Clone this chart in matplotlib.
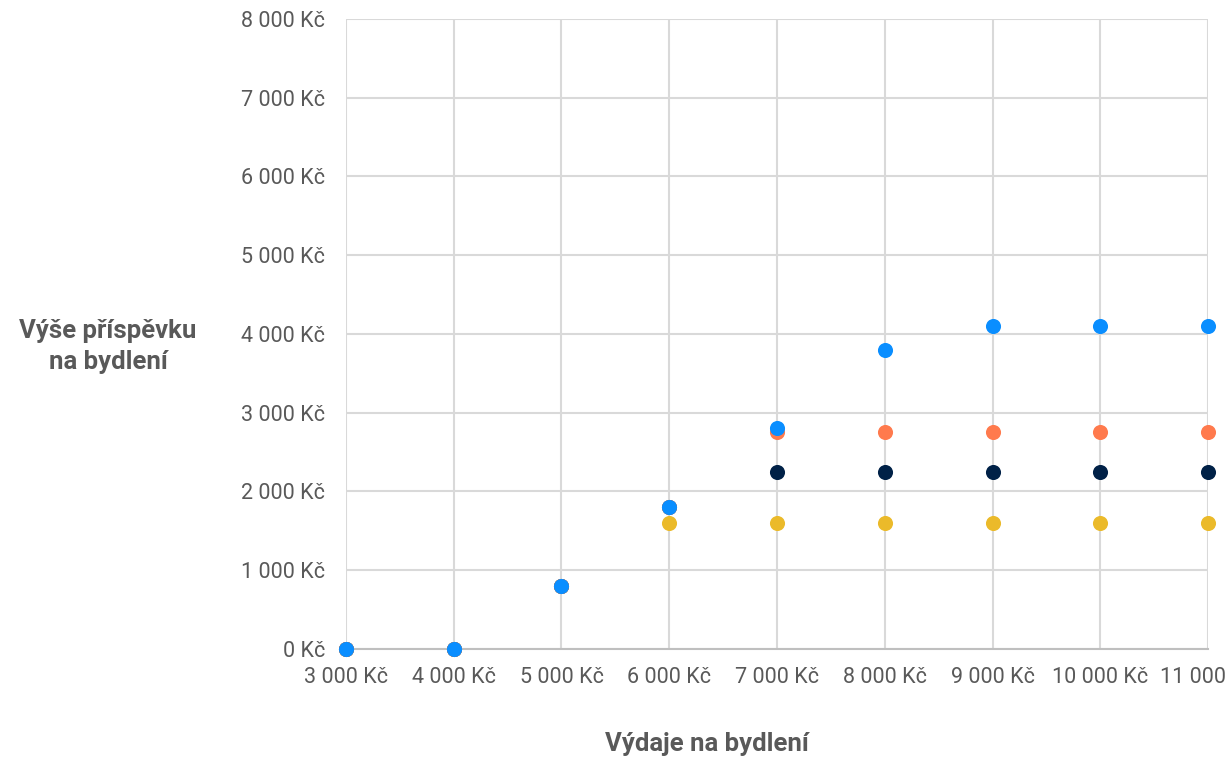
import matplotlib
matplotlib.use("Agg")
import matplotlib.pyplot as plt
from matplotlib.ticker import FuncFormatter, MultipleLocator

# Monthly housing costs (Kč) and the resulting housing allowance for four household types
vydaje = [3000, 4000, 5000, 6000, 7000, 8000, 9000, 10000, 11000]
prispevek_zluta = [0, 0, 800, 1600, 1600, 1600, 1600, 1600, 1600]
prispevek_tmava = [0, 0, 800, 1800, 2250, 2250, 2250, 2250, 2250]
prispevek_oranzova = [0, 0, 800, 1800, 2750, 2750, 2750, 2750, 2750]
prispevek_modra = [0, 0, 800, 1800, 2800, 3800, 4100, 4100, 4100]

serie = [
    (prispevek_zluta, "#EBBA2A"),
    (prispevek_tmava, "#002147"),
    (prispevek_oranzova, "#FF7A4D"),
    (prispevek_modra, "#0A8EFF"),
]

plt.rcParams["font.family"] = ["Roboto", "DejaVu Sans"]
text_color = "#595959"
grid_color = "#D9D9D9"

fig = plt.figure(figsize=(12.29, 7.58), dpi=100)
ax = fig.add_axes([0.2815, 0.1438, 0.7015, 0.8312])

for hodnoty, barva in serie:
    ax.scatter(vydaje, hodnoty, s=118, color=barva, linewidths=0, zorder=3, clip_on=False)

ax.set_xlim(3000, 11000)
ax.set_ylim(0, 8000)
ax.xaxis.set_major_locator(MultipleLocator(1000))
ax.yaxis.set_major_locator(MultipleLocator(1000))


def kc(v, pos):
    return f"{int(round(v)):,} Kč".replace(",", " ")


ax.xaxis.set_major_formatter(FuncFormatter(kc))
ax.yaxis.set_major_formatter(FuncFormatter(kc))

ax.grid(True, color=grid_color, linewidth=1.5, zorder=0)
ax.set_axisbelow(True)
for side in ["top", "right", "left"]:
    ax.spines[side].set_visible(False)
ax.spines["bottom"].set_color("#BFBFBF")
ax.spines["bottom"].set_linewidth(1.5)

ax.tick_params(axis="both", length=0, labelsize=15.5, labelcolor=text_color)
ax.tick_params(axis="x", pad=13)
ax.tick_params(axis="y", pad=15)

fig.text(0.088, 0.543, "Výše příspěvku\nna bydlení", ha="center", va="center",
         fontsize=18.5, fontweight="bold", color=text_color, linespacing=1.35)
fig.text(0.575, 0.019, "Výdaje na bydlení", ha="center", va="center",
         fontsize=18.5, fontweight="bold", color=text_color)

fig.savefig("out.png", dpi=100, facecolor="white")
